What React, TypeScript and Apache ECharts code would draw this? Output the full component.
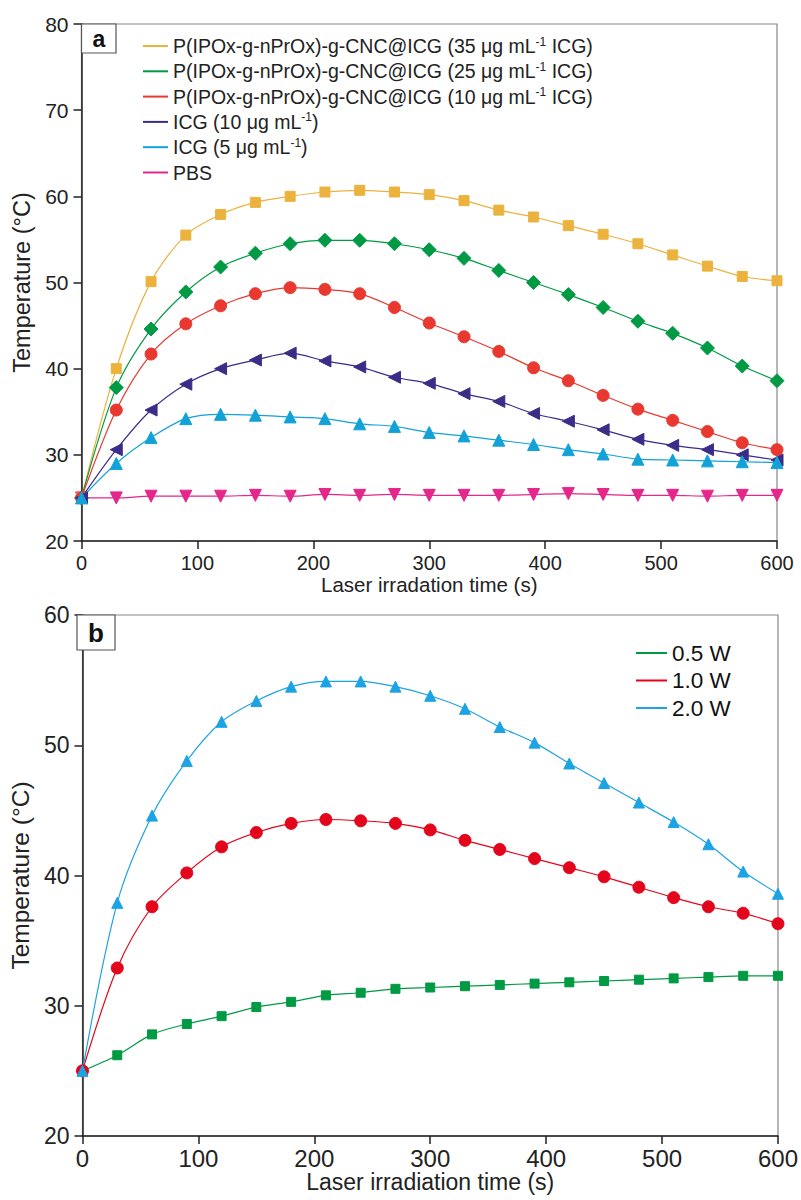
import React, { useEffect, useRef } from "react";
import * as echarts from "echarts";

const times = [0, 30, 60, 90, 120, 150, 180, 210, 240, 270, 300, 330, 360, 390, 420, 450, 480, 510, 540, 570, 600];

// Panel a
const cnc35 = [25, 40.0, 50.1, 55.5, 57.9, 59.3, 60.0, 60.5, 60.7, 60.5, 60.2, 59.5, 58.4, 57.6, 56.6, 55.6, 54.5, 53.2, 51.9, 50.7, 50.2];
const cnc25 = [25, 37.8, 44.6, 48.9, 51.8, 53.4, 54.5, 54.9, 54.9, 54.5, 53.8, 52.8, 51.4, 50.0, 48.6, 47.1, 45.5, 44.1, 42.4, 40.3, 38.6];
const cnc10 = [25, 35.2, 41.7, 45.2, 47.3, 48.7, 49.4, 49.2, 48.7, 47.1, 45.3, 43.7, 42.0, 40.1, 38.6, 36.9, 35.3, 34.0, 32.7, 31.4, 30.6];
const icg10 = [25, 30.6, 35.2, 38.2, 40.0, 41.0, 41.8, 40.9, 40.2, 39.0, 38.3, 37.1, 36.2, 34.8, 33.9, 32.9, 31.8, 31.1, 30.6, 30.0, 29.4];
const icg5 = [25, 29.0, 32.0, 34.2, 34.7, 34.6, 34.4, 34.2, 33.6, 33.3, 32.6, 32.2, 31.7, 31.2, 30.6, 30.1, 29.5, 29.4, 29.3, 29.2, 29.1];
const pbs = [25, 25.0, 25.2, 25.2, 25.2, 25.3, 25.2, 25.4, 25.3, 25.4, 25.3, 25.3, 25.3, 25.4, 25.5, 25.4, 25.3, 25.3, 25.2, 25.3, 25.3];

// Panel b
const w05 = [25, 26.2, 27.8, 28.6, 29.2, 29.9, 30.3, 30.8, 31.0, 31.3, 31.4, 31.5, 31.6, 31.7, 31.8, 31.9, 32.0, 32.1, 32.2, 32.3, 32.3];
const w10 = [25, 32.9, 37.6, 40.2, 42.2, 43.3, 44.0, 44.3, 44.2, 44.0, 43.5, 42.7, 42.0, 41.3, 40.6, 39.9, 39.1, 38.3, 37.6, 37.1, 36.3];
const w20 = [25, 37.9, 44.6, 48.8, 51.8, 53.4, 54.5, 54.9, 54.9, 54.5, 53.8, 52.8, 51.4, 50.2, 48.6, 47.1, 45.6, 44.1, 42.4, 40.3, 38.6];

const namesA = [
  "P(IPOx-g-nPrOx)-g-CNC@ICG (35 μg mL-1 ICG)",
  "P(IPOx-g-nPrOx)-g-CNC@ICG (25 μg mL-1 ICG)",
  "P(IPOx-g-nPrOx)-g-CNC@ICG (10 μg mL-1 ICG)",
  "ICG (10 μg mL-1)",
  "ICG (5 μg mL-1)",
  "PBS",
];
const namesB = ["0.5 W", "1.0 W", "2.0 W"];
const xTitleA = "Laser irradation time (s)";
const xTitleB = "Laser irradiation time (s)";
const yTitle = "Temperature (°C)";

const FONT = "'Liberation Sans', Arial, sans-serif";

export default function App() {
  const ref = useRef<HTMLDivElement>(null);
  useEffect(() => {
    document.body.style.margin = "0";
    const chart = echarts.init(ref.current!, null, { renderer: "svg" });
    const pts = (v: number[]) => times.map((t, i) => [t, v[i]]);
    const mk = (name: string, data: number[], color: string, symbol: string, size: number, idx: number, rotate = 0, z = 2) => ({
      type: "line",
      name,
      xAxisIndex: idx,
      yAxisIndex: idx,
      data: pts(data),
      smooth: 0.3,
      symbol,
      symbolSize: size,
      symbolRotate: rotate,
      showSymbol: true,
      z,
      lineStyle: { color, width: 1.2 },
      itemStyle: { color, borderColor: color },
    });
    const supFmt = (n: string) => n.replace("mL-1", "mL{sup|-1}");
    const axisX = (gi: number, name: string, fs: number, nfs: number, gap: number, lm: number) => ({
      type: "value",
      gridIndex: gi,
      min: 0,
      max: 600,
      interval: 100,
      name,
      nameLocation: "middle",
      nameGap: gap,
      nameTextStyle: { fontSize: nfs, color: "#222", fontFamily: FONT },
      axisLine: { show: true, onZero: false, lineStyle: { color: "#222", width: 1.5 } },
      axisTick: { show: true, inside: false, length: 8, lineStyle: { color: "#222", width: 1.5 } },
      axisLabel: { fontSize: fs, color: "#222", fontFamily: FONT, margin: lm },
      splitLine: { show: false },
    });
    const axisY = (gi: number, min: number, max: number, fs: number, nfs: number, gap: number) => ({
      type: "value",
      gridIndex: gi,
      min,
      max,
      interval: 10,
      name: yTitle,
      nameLocation: "middle",
      nameGap: gap,
      nameTextStyle: { fontSize: nfs, color: "#222", fontFamily: FONT },
      axisLine: { show: true, onZero: false, lineStyle: { color: "#222", width: 1.5 } },
      axisTick: { show: true, inside: false, length: 8, lineStyle: { color: "#222", width: 1.5 } },
      axisLabel: { fontSize: fs, color: "#222", fontFamily: FONT, margin: 13 },
      splitLine: { show: false },
    });
    chart.setOption({
      animation: false,
      backgroundColor: "#fff",
      grid: [
        { left: 81.5, top: 24, width: 695.5, height: 517, show: true, borderColor: "#888", borderWidth: 1.2, backgroundColor: "transparent" },
        { left: 77, top: 615, width: 703, height: 521, show: true, borderColor: "#888", borderWidth: 1.2, backgroundColor: "transparent" },
      ],
      xAxis: [axisX(0, xTitleA, 20, 20.5, 32, 12), axisX(1, xTitleB, 24, 23, 30.5, 10)],
      yAxis: [axisY(0, 20, 80, 21, 23.5, 44), axisY(1, 20, 60, 23, 24.5, 43)],
      legend: [
        {
          data: namesA,
          orient: "vertical",
          left: 143,
          top: 35.5,
          padding: 0,
          itemGap: 4.3,
          itemWidth: 25,
          itemHeight: 2,
          icon: "rect",
          formatter: supFmt,
          textStyle: {
            fontSize: 19.5,
            color: "#222",
            fontFamily: FONT,
            lineHeight: 21,
            rich: { sup: { fontSize: 12, fontFamily: FONT, color: "#222", lineHeight: 21, verticalAlign: "top" } },
          },
        },
        {
          data: namesB,
          orient: "vertical",
          left: 636,
          top: 641,
          padding: 0,
          itemGap: 3.5,
          itemWidth: 31,
          itemHeight: 2,
          icon: "rect",
          textStyle: { fontSize: 22.5, color: "#111", fontFamily: FONT, lineHeight: 24 },
        },
      ],
      graphic: [
        { type: "rect", shape: { x: 81.5, y: 24, width: 34.5, height: 29 }, style: { fill: "#fff", stroke: "#555", lineWidth: 1.2 }, z: 10 },
        { type: "text", x: 99, y: 38.5, style: { text: "a", fontSize: 23, fontWeight: "bold", fontFamily: FONT, fill: "#111", align: "center", verticalAlign: "middle" }, z: 11 },
        { type: "rect", shape: { x: 77, y: 615, width: 38, height: 35 }, style: { fill: "#fff", stroke: "#555", lineWidth: 1.2 }, z: 10 },
        { type: "text", x: 96, y: 632.5, style: { text: "b", fontSize: 26, fontWeight: "bold", fontFamily: FONT, fill: "#111", align: "center", verticalAlign: "middle" }, z: 11 },
      ],
      series: [
        mk(namesA[5], pbs, "#E5268A", "triangle", 12, 0, 180, 1),
        mk(namesA[0], cnc35, "#EBB33E", "rect", 10, 0),
        mk(namesA[1], cnc25, "#009A44", "diamond", 14, 0),
        mk(namesA[2], cnc10, "#E8382F", "circle", 12, 0),
        mk(namesA[3], icg10, "#3B2C88", "triangle", 12, 0, 90),
        mk(namesA[4], icg5, "#12A2D8", "triangle", 12, 0),
        mk(namesB[0], w05, "#009A44", "rect", 9, 1),
        mk(namesB[1], w10, "#E3051B", "circle", 12, 1),
        mk(namesB[2], w20, "#1CA3E3", "triangle", 11, 1),
      ],
    });
    return () => chart.dispose();
  }, []);
  return <div ref={ref} style={{ width: 801, height: 1200, position: "absolute", left: 0, top: 0 }} />;
}
